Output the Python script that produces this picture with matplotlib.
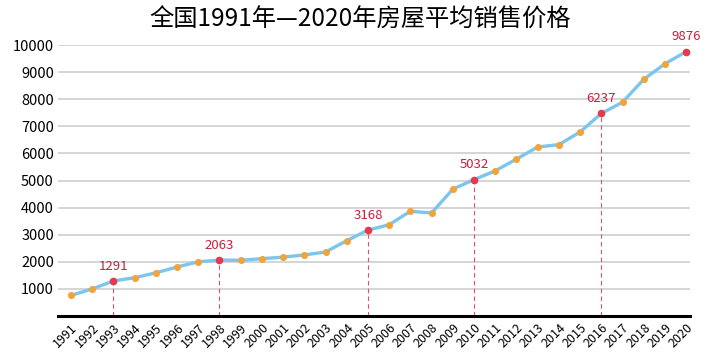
"""全国1991年-2020年房屋平均销售价格 line chart."""
import matplotlib
matplotlib.use("Agg")
import matplotlib.pyplot as plt

plt.rcParams["font.family"] = ["Noto Sans CJK SC", "DejaVu Sans"]

TITLE = "全国1991年—2020年房屋平均销售价格"

years = list(range(1991, 2021))
prices = [756, 995, 1291, 1409, 1591, 1806, 1997, 2063, 2053, 2112,
          2170, 2250, 2359, 2778, 3168, 3367, 3864, 3800, 4681, 5032,
          5357, 5791, 6237, 6324, 6793, 7476, 7892, 8737, 9310, 9760]

# highlighted points and the text written above them
highlight_years = [1993, 1998, 2005, 2010, 2016, 2020]
highlight_labels = ["1291", "2063", "3168", "5032", "6237", "9876"]

y_ticks = [1000, 2000, 3000, 4000, 5000, 6000, 7000, 8000, 9000, 10000]

LINE_BLUE = "#7cc6ee"
DOT_ORANGE = "#f2a43a"
DOT_RED = "#e33a4f"
TEXT_RED = "#c81e3c"

fig = plt.figure(figsize=(7.2, 3.61), dpi=100)
ax = fig.add_axes([0.0806, 0.125, 0.878, 0.75])

ax.plot(years, prices, color=LINE_BLUE, lw=2.4, zorder=2,
        solid_capstyle="round")
ax.scatter(years, prices, s=26, color=DOT_ORANGE, zorder=3, lw=0)

hl_vals = [prices[years.index(y)] for y in highlight_years]
ax.scatter(highlight_years, hl_vals, s=30, color=DOT_RED, zorder=4, lw=0)
for yr, v, lab in zip(highlight_years, hl_vals, highlight_labels):
    if yr != 2020:
        ax.vlines(yr, 0, v, colors="#d9546a", linestyles=(0, (4, 3)),
                  lw=0.8, zorder=1)
    ax.annotate(lab, (yr, v), xytext=(0, 6), textcoords="offset points",
                ha="center", va="bottom", color=TEXT_RED, fontsize=9.5,
                fontweight="medium", annotation_clip=False)

ax.set_xlim(1990.39, 2020.19)
ax.set_ylim(0, 10000)
ax.set_yticks(y_ticks)
ax.set_yticklabels([str(t) for t in y_ticks], fontsize=10.5,
                   fontweight="medium")
ax.set_xticks(years)
ax.set_xticklabels([str(y) for y in years], rotation=45, ha="right",
                   rotation_mode="anchor", fontsize=9, fontweight="medium")
ax.tick_params(axis="both", length=0)
ax.tick_params(axis="y", pad=3)
ax.tick_params(axis="x", pad=4)

ax.grid(axis="y", color="#d2d2d2", lw=1.3, zorder=0)
ax.set_axisbelow(True)
for side in ["left", "right", "top"]:
    ax.spines[side].set_visible(False)
ax.spines["bottom"].set_color("black")
ax.spines["bottom"].set_linewidth(2.2)

fig.text(0.5, 0.945, TITLE, ha="center", va="center", fontsize=17.5,
         fontweight="medium")

fig.savefig("out.png", dpi=100)
